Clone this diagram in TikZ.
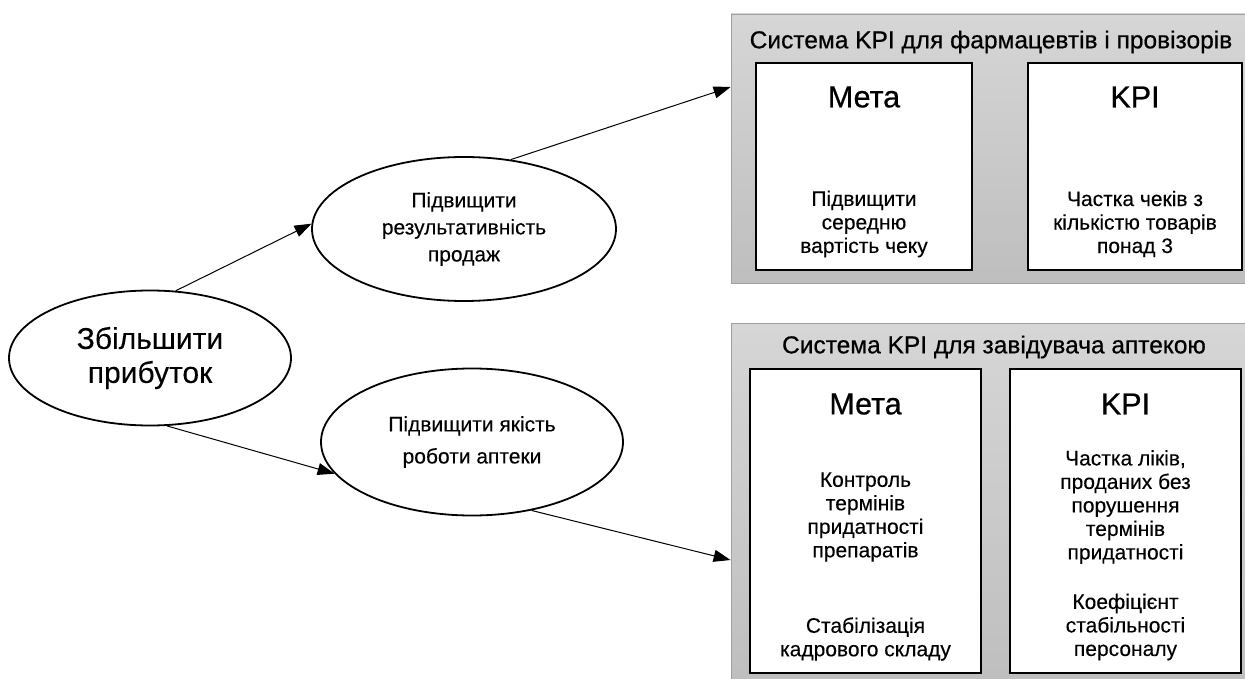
\documentclass[tikz,border=0pt]{standalone}
\usepackage{fontspec}
\setmainfont{Liberation Sans}
\newfontfamily\headfont[FakeBold=0.6]{Liberation Sans}
\newfontfamily\bodyfont[FakeBold=0.2]{Liberation Sans}
\usetikzlibrary{shapes.geometric,arrows.meta,calc}
\definecolor{gtop}{RGB}{214,214,214}
\definecolor{gbot}{RGB}{190,190,190}
\definecolor{gline}{RGB}{160,160,160}
\begin{document}
\begin{tikzpicture}[x=1pt,y=-1pt,
  graybox/.style={rectangle, draw=gline, line width=0.8pt, top color=gtop, bottom color=gbot, inner sep=0pt},
  whitebox/.style={rectangle, draw=black, line width=2pt, fill=white, inner sep=0pt},
  goal/.style={ellipse, draw=black, line width=1.8pt, fill=white, inner sep=0pt, align=center},
  conn/.style={line width=1pt, -{Triangle[length=17pt,width=12pt]}},
  ttl/.style={font=\headfont\fontsize{24.5}{29}\selectfont, inner sep=0pt},
  head/.style={font=\headfont\fontsize{30.5}{34}\selectfont, inner sep=0pt},
  body/.style={font=\bodyfont\fontsize{21}{23.5}\selectfont, align=center, inner sep=0pt}]
\useasboundingbox (0,0) rectangle (1245,679);
\clip (0,0) rectangle (1245,679);
\fill[white] (0,0) rectangle (1245,679);

% system panels
\node[graybox, minimum width=519pt, minimum height=269pt] (topsys) at (990.5,148.5) {};
\node[graybox, minimum width=519pt, minimum height=367pt] (botsys) at (990.5,506.5) {};

\node[ttl] (t1) at (991,42) {Система KPI для фармацевтів і провізорів};
\node[ttl] (t2) at (994,347) {Система KPI для завідувача аптекою};

% inner boxes
\node[whitebox, minimum width=216pt, minimum height=207pt] (m1) at (864,166.5) {};
\node[whitebox, minimum width=214pt, minimum height=207pt] (k1) at (1135,166.5) {};
\node[whitebox, minimum width=231pt, minimum height=304pt] (m2) at (865.5,521) {};
\node[whitebox, minimum width=231pt, minimum height=304pt] (k2) at (1125.5,521) {};

\node[head] (m1h) at (864,97) {Мета};
\node[head] (k1h) at (1135,97) {KPI};
\node[head] (m2h) at (865.5,404) {Мета};
\node[head] (k2h) at (1125.5,404) {KPI};

\node[body] (m1b) at (864,224) {Підвищити\\середню\\вартість чеку};
\node[body] (k1b) at (1135,224) {Частка чеків з\\кількістю товарів\\понад 3};
\node[body] (m2b1) at (865.5,517) {Контроль\\термінів\\придатності\\препаратів};
\node[body] (m2b2) at (865.5,639) {Стабілізація\\кадрового складу};
\node[body] (k2b1) at (1125.5,507) {Частка ліків,\\проданих без\\порушення\\термінів\\придатності};
\node[body] (k2b2) at (1125.5,627) {Коефіцієнт\\стабільності\\персоналу};

% goals
\node[goal, minimum width=282pt, minimum height=135pt, font=\bodyfont\fontsize{30}{34}\selectfont] (main) at (150,358) {Збільшити\\прибуток};
\node[goal, minimum width=304pt, minimum height=144pt, font=\bodyfont\fontsize{21}{27}\selectfont] (e2) at (464,229) {Підвищити\\результативність\\продаж};
\node[goal, minimum width=302pt, minimum height=147pt, font=\bodyfont\fontsize{21}{32}\selectfont] (e3) at (472,442) {Підвищити якість\\роботи аптеки};

% connectors
\coordinate (a3) at (topsys.west |- 0,87);
\coordinate (a4) at (botsys.west |- 0,560);
\draw[conn] (main.69.5) -- (e2.178.5);
\draw[conn] (main.-76.8) -- (e3.-167);
\draw[conn] (e2.56.3) -- (a3);
\draw[conn] (e3.-49.6) -- (a4);
\end{tikzpicture}
\end{document}
